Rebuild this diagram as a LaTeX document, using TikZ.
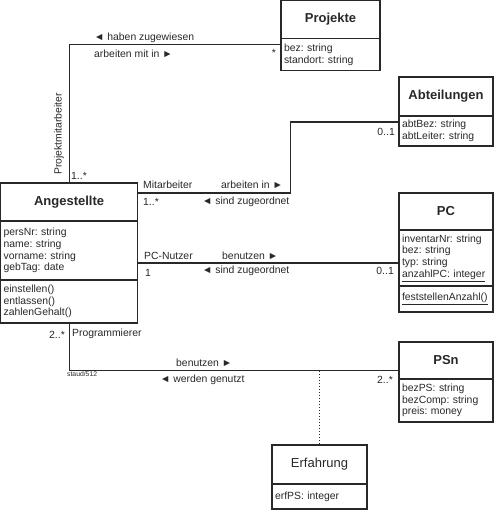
\documentclass[tikz,border=0pt]{standalone}
\usepackage{fontspec}
\setmainfont{Liberation Sans}
\frenchspacing
\usetikzlibrary{calc, math}
\definecolor{umlgray}{RGB}{40,40,40}

\tikzset{
  hdr/.style={draw=umlgray, line width=1.2pt, anchor=north west, inner sep=0pt,
    outer sep=0pt, text=umlgray, font=\fontsize{13}{15}\selectfont\bfseries},
  cmp/.style={draw=umlgray, line width=1.2pt, anchor=north west, inner xsep=3pt,
    inner ysep=0pt, outer sep=0pt, align=left, text=umlgray,
    font=\fontsize{10.4}{11.7}\selectfont},
  lbl/.style={inner sep=0pt, text=umlgray, font=\fontsize{10.4}{12}\selectfont},
  assoc/.style={draw=umlgray, line width=1.2pt},
  assocclass/.style={draw=umlgray, line width=1.2pt, dash pattern=on 1.5pt off 1.5pt},
}

\begin{document}
\begin{tikzpicture}[x=1pt, y=-1pt]
\tikzmath{
\wA=137;
\wS=94;
}
\useasboundingbox (0,0) rectangle (494,510);

%classes
\node[hdr, minimum width=\wA, minimum height=38] (ang) at (0.6,183) {Angestellte};
\node[cmp, text width=\wA-6, minimum height=59] (angA) at (ang.south west)
  {persNr: string\\name: string\\vorname: string\\gebTag: date};
\node[cmp, text width=\wA-6, minimum height=43] (angM) at (angA.south west)
  {einstellen()\\entlassen()\\zahlenGehalt()};

\node[hdr, minimum width=99, minimum height=38] (proj) at (281,0.6) {Projekte};
\node[cmp, text width=93, minimum height=32] (projA) at (proj.south west)
  {bez: string\\standort: string};

\node[hdr, minimum width=\wS, minimum height=39] (abt) at (399,77) {Abteilungen};
\node[cmp, text width=\wS-6, minimum height=30] (abtA) at (abt.south west)
  {abtBez: string\\abtLeiter: string};

\node[hdr, minimum width=\wS, minimum height=37] (pc) at (399,193) {PC};
\node[cmp, text width=\wS-6, minimum height=56] (pcA) at (pc.south west)
  {inventarNr: string\\bez: string\\typ: string\\\underline{anzahlPC: integer}};
\node[cmp, text width=\wS-6, minimum height=26] (pcM) at (pcA.south west)
  {\underline{feststellenAnzahl()}};

\node[hdr, minimum width=\wS, minimum height=37] (psn) at (399,342) {PSn};
\node[cmp, text width=\wS-6, minimum height=43] (psnA) at (psn.south west)
  {bezPS: string\\bezComp: string\\preis: money};

\node[hdr, minimum width=95, minimum height=39, font=\fontsize{13}{15}\selectfont] (erf) at (272,445) {Erfahrung};
\node[cmp, text width=89, minimum height=25] (erfA) at (erf.south west) {erfPS: integer};

%connector ends
\coordinate (pjEnd) at ([yshift=-6pt]projA.north west);
\coordinate (abStart) at ([yshift=9pt]ang.east);
\coordinate (abEnd) at ([yshift=-6pt]abtA.north west);
\coordinate (pcStart) at ([yshift=-12.5pt]angA.east);
\coordinate (psEnd) at ([yshift=-10pt]psn.west);
\coordinate (exKnot) at (erf.north |- psEnd);

%associations
\draw[assoc] (ang.north) |- (pjEnd);
\draw[assoc] (abStart) -- ++(153,0) |- (abEnd);
\draw[assoc] (pcStart) -- (pcStart -| pcA.west);
\draw[assoc] (angM.south) |- (psEnd);
\draw[assocclass] (exKnot) -- (erf.north);

%Projekte
\node[lbl, anchor=west] (l1) at (94,37.5) {◄ haben zugewiesen};
\node[lbl, anchor=west] (l2) at (94,54) {arbeiten mit in ►};
\node[lbl, anchor=east] (m1) at (276,53) {*};
\node[lbl, anchor=west] (m2) at (71,175.5) {1..*};
\node[lbl, rotate=90] (r1) at (59,134) {Projektmitarbeiter};

%Abteilungen
\node[lbl, anchor=west] (r2) at (143,185) {Mitarbeiter};
\node[lbl, anchor=west] (l3) at (221,185) {arbeiten in ►};
\node[lbl, anchor=west] (m3) at (143,201.5) {1..*};
\node[lbl, anchor=west] (l4) at (202,202) {◄ sind zugeordnet};
\node[lbl, anchor=east] (m4) at (395,132) {0..1};

%PC
\node[lbl, anchor=west] (r3) at (144,255.5) {PC-Nutzer};
\node[lbl, anchor=west] (l5) at (222,255.5) {benutzen ►};
\node[lbl, anchor=west] (m5) at (145,273) {1};
\node[lbl, anchor=west] (l6) at (202,270.5) {◄ sind zugeordnet};
\node[lbl, anchor=east] (m6) at (394,270.5) {0..1};

%PSn
\node[lbl, anchor=east] (m7) at (65,334.5) {2..*};
\node[lbl, anchor=west] (r4) at (72,334) {Programmierer};
\node[lbl, anchor=west] (l7) at (176,363) {benutzen ►};
\node[lbl, anchor=west] (l8) at (160,380) {◄ werden genutzt};
\node[lbl, anchor=east] (m8) at (393,380) {2..*};
\node[lbl, anchor=west, font=\fontsize{6.8}{8}\selectfont] (src) at (67,374.5) {staud/512};
\end{tikzpicture}
\end{document}
